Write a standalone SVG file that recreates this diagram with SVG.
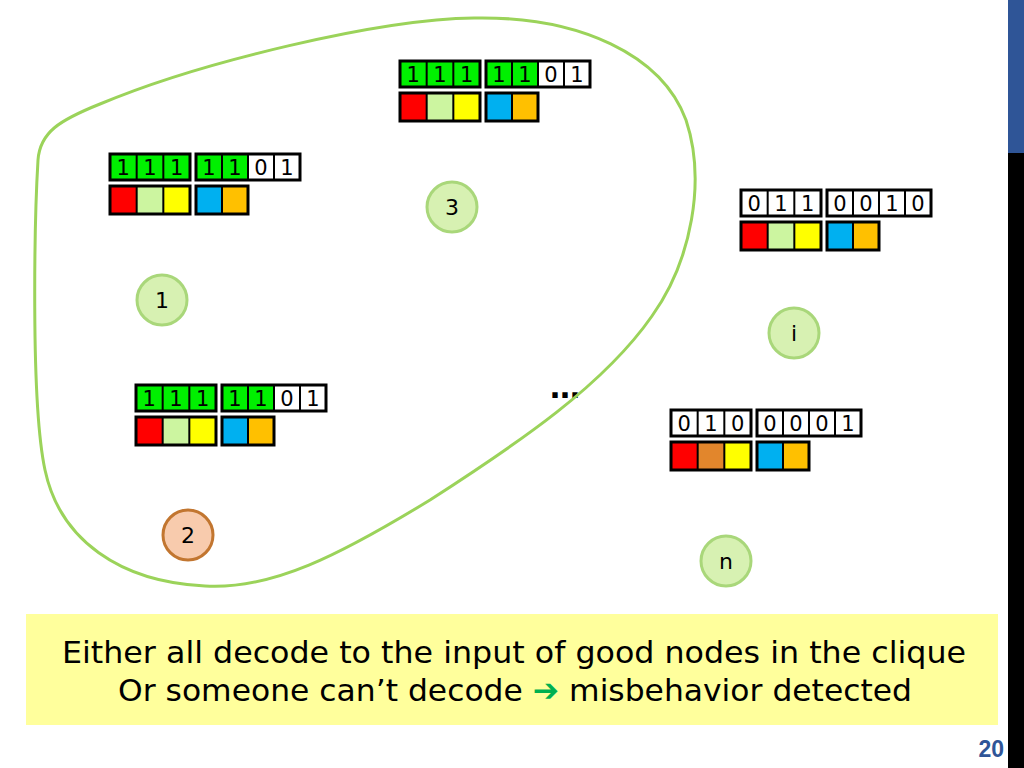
<svg xmlns="http://www.w3.org/2000/svg" xmlns:xlink="http://www.w3.org/1999/xlink" width="1024" height="768" viewBox="0 0 1024 768">
<style>
.frame{fill:none;stroke:#000;stroke-width:3}
.div{stroke:#000;stroke-width:2}
.g{fill:#00F000}
.w{fill:#FFFFFF}
.bit{font-family:"DejaVu Sans","Noto Sans",sans-serif;font-size:21px;fill:#000;text-anchor:middle}
.nd{fill:#D7F1B2;stroke:#A9D77A;stroke-width:3}
.nd2{fill:#F8CBAD;stroke:#C27630;stroke-width:3}
.lbl{font-family:"DejaVu Sans","Noto Sans",sans-serif;font-size:22px;fill:#000;text-anchor:middle}
.clique{fill:none;stroke:#9BD35A;stroke-width:3}
.msg{font-family:"DejaVu Sans","Noto Sans",sans-serif;font-size:31px;fill:#000;text-anchor:middle}
</style>
<defs>
<g id="frame">
<rect class="frame" x="0" y="0" width="80" height="26"/>
<rect class="frame" x="86" y="0" width="104" height="26"/>
<rect class="frame" x="0" y="32" width="80" height="28"/>
<rect class="frame" x="86" y="32" width="52" height="28"/>
<path class="div" d="M26.67,0V26M53.33,0V26M112,0V26M138,0V26M164,0V26M26.67,32V60M53.33,32V60M112,32V60"/>
</g>
<g id="colors">
<rect x="0" y="32" width="26.67" height="28" fill="#FF0000"/>
<rect x="26.67" y="32" width="26.67" height="28" fill="#CCF5A0"/>
<rect x="53.33" y="32" width="26.67" height="28" fill="#FFFF00"/>
<rect x="86" y="32" width="26" height="28" fill="#00B0F0"/>
<rect x="112" y="32" width="26" height="28" fill="#FFC000"/>
</g>
<g id="bits-good">
<rect class="g" x="0" y="0" width="80" height="26"/>
<rect class="g" x="86" y="0" width="52" height="26"/>
<rect class="w" x="138" y="0" width="52" height="26"/>
<use xlink:href="#colors"/>
<use xlink:href="#frame"/>
<text class="bit" x="13.3" y="21">1</text>
<text class="bit" x="40" y="21">1</text>
<text class="bit" x="66.7" y="21">1</text>
<text class="bit" x="99" y="21">1</text>
<text class="bit" x="125" y="21">1</text>
<text class="bit" x="151" y="21">0</text>
<text class="bit" x="177" y="21">1</text>
</g>
</defs>

<rect x="0" y="0" width="1024" height="768" fill="#FFFFFF"/>
<rect x="1008" y="0" width="16" height="153" fill="#2F5597"/>
<rect x="1008" y="153" width="16" height="615" fill="#000000"/>

<text x="565" y="398" font-family="DejaVu Sans, sans-serif" font-size="30" font-weight="bold" text-anchor="middle" fill="#000">…</text>

<g id="clique">
<path class="clique" d="M474,18 C580,16 662,55 686,120 C706,180 692,260 652,316 C604,385 520,442 430,500 C340,555 272,590 205,586 C120,582 60,540 45,470 C30,400 35,210 38,160 C40,132 60,120 100,104 C200,62 380,19 474,18 Z"/>
</g>

<g id="node-3">
<use xlink:href="#bits-good" transform="translate(400,61)"/>
<circle class="nd" cx="452" cy="207" r="25"/>
<text class="lbl" x="452" y="215">3</text>
</g>

<g id="node-1">
<use xlink:href="#bits-good" transform="translate(110,154)"/>
<circle class="nd" cx="162" cy="300" r="25"/>
<text class="lbl" x="162" y="308">1</text>
</g>

<g id="node-2">
<use xlink:href="#bits-good" transform="translate(136,385)"/>
<circle class="nd2" cx="188" cy="535" r="25"/>
<text class="lbl" x="188" y="543">2</text>
</g>

<g id="node-i">
<g transform="translate(741,190)">
<rect class="w" x="0" y="0" width="190" height="26"/>
<use xlink:href="#colors"/>
<use xlink:href="#frame"/>
<text class="bit" x="13.3" y="21">0</text>
<text class="bit" x="40" y="21">1</text>
<text class="bit" x="66.7" y="21">1</text>
<text class="bit" x="99" y="21">0</text>
<text class="bit" x="125" y="21">0</text>
<text class="bit" x="151" y="21">1</text>
<text class="bit" x="177" y="21">0</text>
</g>
<circle class="nd" cx="794" cy="333" r="25"/>
<text class="lbl" x="794" y="341">i</text>
</g>

<g id="node-n">
<g transform="translate(671,410)">
<rect class="w" x="0" y="0" width="190" height="26"/>
<use xlink:href="#colors"/>
<rect x="26.67" y="32" width="26.67" height="28" fill="#E2862C"/>
<use xlink:href="#frame"/>
<text class="bit" x="13.3" y="21">0</text>
<text class="bit" x="40" y="21">1</text>
<text class="bit" x="66.7" y="21">0</text>
<text class="bit" x="99" y="21">0</text>
<text class="bit" x="125" y="21">0</text>
<text class="bit" x="151" y="21">0</text>
<text class="bit" x="177" y="21">1</text>
</g>
<circle class="nd" cx="726" cy="561" r="25"/>
<text class="lbl" x="726" y="569">n</text>
</g>

<g id="message">
<rect x="26" y="614" width="972" height="111" fill="#FFFF9C"/>
<text class="msg" x="514" y="663" textLength="904" lengthAdjust="spacingAndGlyphs">Either all decode to the input of good nodes in the clique</text>
<text class="msg" x="515" y="701" textLength="794" lengthAdjust="spacingAndGlyphs">Or someone can’t decode <tspan fill="#00B050">➔</tspan> misbehavior detected</text>
</g>

<text x="1004" y="757" font-family="Liberation Sans, Arial, sans-serif" font-size="23" font-weight="bold" fill="#2F5597" text-anchor="end">20</text>
</svg>
